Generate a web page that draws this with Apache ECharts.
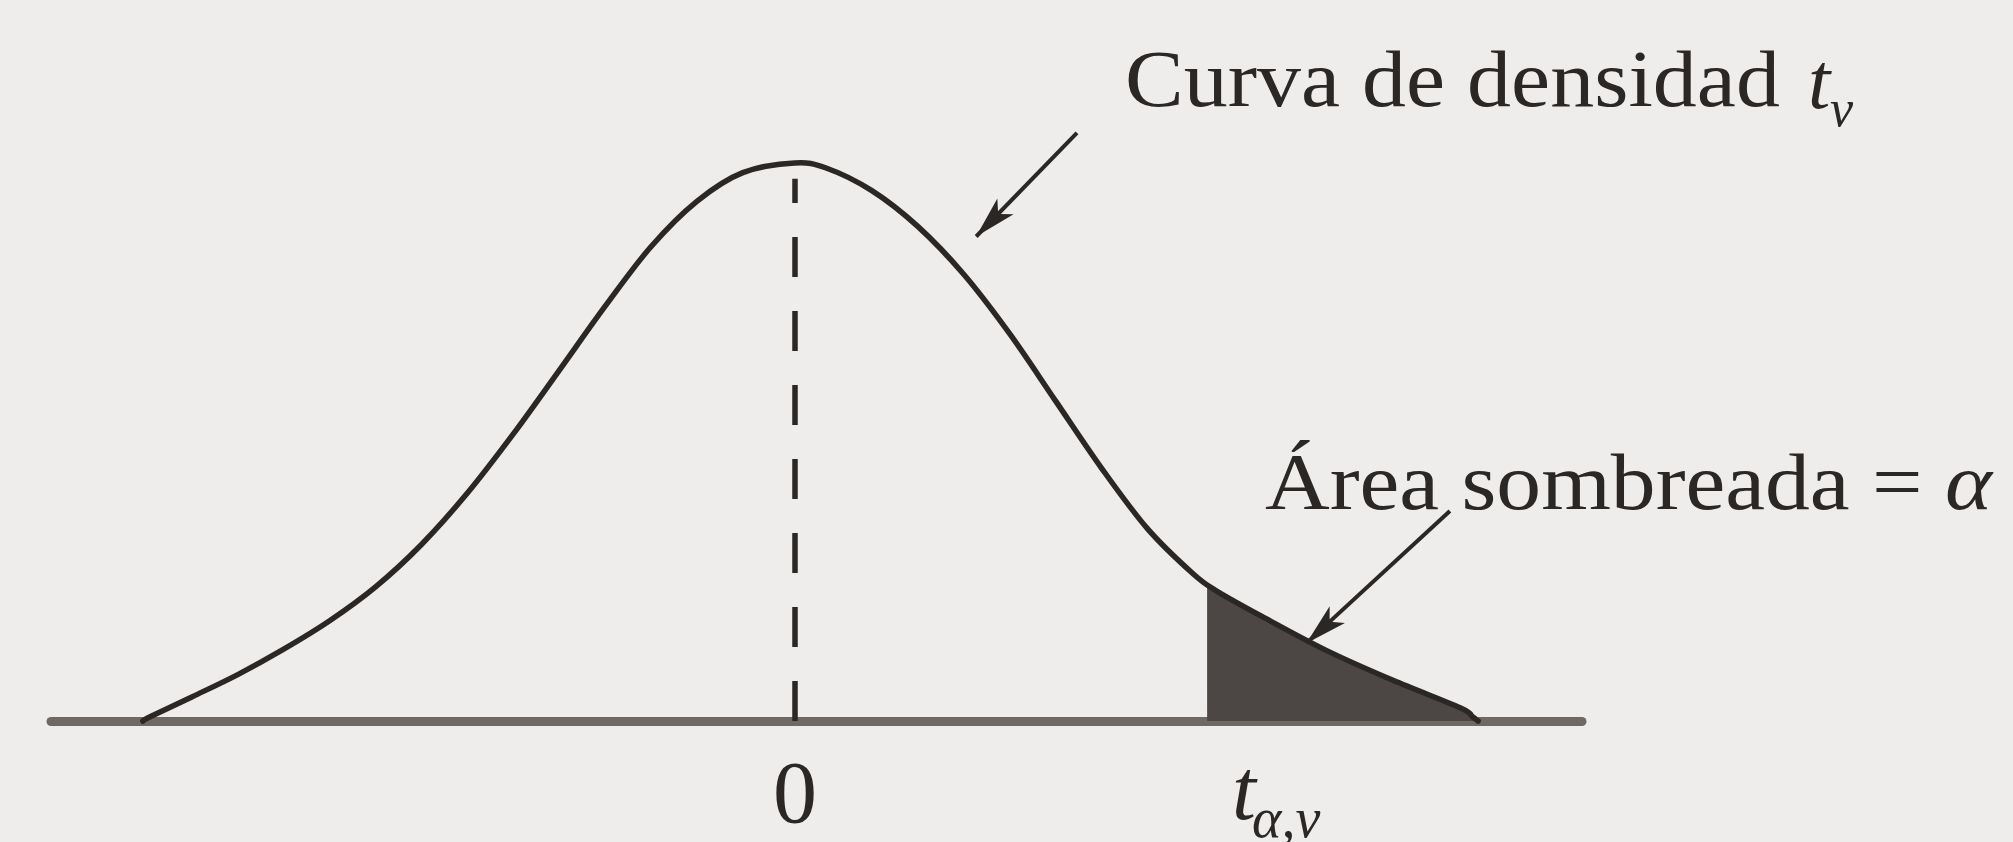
<!DOCTYPE html>
<html>
<head>
<meta charset="utf-8">
<script src="https://cdn.jsdelivr.net/npm/echarts@6/dist/echarts.min.js"></script>
<style>
html,body{margin:0;padding:0;background:#efedeb;}
#c{width:2013px;height:842px;}
</style>
</head>
<body>
<div id="c"></div>
<script>
// Density curve (x in t units, y in density units)
const curveX = [-2.98,-2.947,-2.756,-2.546,-2.336,-2.126,-1.916,-1.706,-1.497,-1.287,-1.077,-0.867,-0.657,-0.447,-0.237,0,0.144,0.353,0.563,0.773,0.983,1.193,1.403,1.613,1.823,1.928,2.137,2.433,2.736,3.043,3.10,3.125];
const curveY = [0,0.0029,0.0167,0.0322,0.0498,0.0695,0.0930,0.1224,0.1579,0.1989,0.2430,0.2875,0.3289,0.3604,0.3803,0.3870,0.3835,0.3678,0.3430,0.3098,0.2686,0.2220,0.1754,0.1334,0.1019,0.0903,0.0725,0.0488,0.0282,0.0092,0.0029,0];
// Shaded tail (area = alpha)
const shadeX = [1.886,1.928,2.137,2.433,2.736,3.043,3.10,3.125];
const shadeY = [0.094,0.0903,0.0725,0.0488,0.0282,0.0092,0.0029,0];
// Dashed line at the mean
const meanLine = [[0,0],[0,0.376]];
// Annotation arrows (start, tip)
const arrowCurve = [[1.291,0.4078],[0.83,0.336]];
const arrowArea = [[2.996,0.1456],[2.34,0.054]];
// Texts
const labelCurve = 'Curva de densidad';
const labelArea = 'Área sombreada = ';
const tickZero = '0';

const ink = '#2b2725';
const chart = echarts.init(document.getElementById('c'), null, {renderer:'canvas'});
const serif = "'Liberation Serif','Times New Roman',serif";

// smooth path (Catmull-Rom through the read points, in pixel space from the axes)
function splinePath(pts){
  let d = 'M' + pts[0][0] + ' ' + pts[0][1];
  for (let i = 0; i < pts.length - 1; i++) {
    const p0 = pts[Math.max(i - 1, 0)], p1 = pts[i], p2 = pts[i + 1], p3 = pts[Math.min(i + 2, pts.length - 1)];
    const c1x = p1[0] + (p2[0] - p0[0]) / 6, c1y = p1[1] + (p2[1] - p0[1]) / 6;
    const c2x = p2[0] - (p3[0] - p1[0]) / 6, c2y = p2[1] - (p3[1] - p1[1]) / 6;
    d += ' C' + c1x + ' ' + c1y + ' ' + c2x + ' ' + c2y + ' ' + p2[0] + ' ' + p2[1];
  }
  return d;
}

chart.setOption({
  backgroundColor:'#efedeb',
  animation:false,
  grid:{left:51,right:431,top:0,bottom:121},
  xAxis:{type:'value',min:-3.4,max:3.6,
    axisLine:{show:true,onZero:false,lineStyle:{color:'#6f6965',width:9}},
    axisTick:{show:false},axisLabel:{show:false},splitLine:{show:false}},
  yAxis:{type:'value',min:0,max:0.5,show:false,splitLine:{show:false}},
  series:[
    {type:'custom',name:'shade',coordinateSystem:'cartesian2d',z:2,
     data:shadeX.map((x,i)=>[x,shadeY[i]]),encode:{x:0,y:1},
     renderItem:function(params, api){
       if (params.dataIndex !== 0) return null;
       const pts = shadeX.map((x,i)=>api.coord([x, shadeY[i]]));
       const base0 = api.coord([shadeX[0], 0]);
       const baseN = api.coord([shadeX[shadeX.length-1], 0]);
       const d = splinePath(pts) + ' L' + baseN[0] + ' ' + baseN[1] + ' L' + base0[0] + ' ' + base0[1] + ' Z';
       return {type:'path',shape:{pathData:d},style:{fill:'#4c4745',stroke:null}};
     }},
    {type:'custom',name:'curve',coordinateSystem:'cartesian2d',z:3,
     data:curveX.map((x,i)=>[x,curveY[i]]),encode:{x:0,y:1},
     renderItem:function(params, api){
       if (params.dataIndex !== 0) return null;
       const pts = curveX.map((x,i)=>api.coord([x, curveY[i]]));
       return {type:'path',shape:{pathData:splinePath(pts)},
         style:{fill:null,stroke:ink,lineWidth:5.5,lineJoin:'round',lineCap:'round'}};
     }},
    {type:'line',name:'marks',data:[],z:4,
     markLine:{silent:true,symbol:['none','none'],label:{show:false},animation:false,
       data:[[{coord:meanLine[0],lineStyle:{color:ink,width:5.5,type:[40,34]}},{coord:meanLine[1]}]]}
    },
    {type:'line',name:'arrows',data:[],z:4,
     markLine:{silent:true,symbol:['none','arrow'],symbolSize:[17,42],label:{show:false},animation:false,
       lineStyle:{color:ink,width:4,type:'solid'},
       data:[
         [{coord:arrowCurve[0]},{coord:arrowCurve[1]}],
         [{coord:arrowArea[0]},{coord:arrowArea[1]}]
       ]}
    }
  ],
  graphic:[
    {type:'text',x:1125,y:45,scaleX:1.1,style:{text:labelCurve,font:'80px '+serif,fill:ink,align:'left',verticalAlign:'top'}},
    {type:'text',x:1808,y:47,style:{text:'t',font:'italic 80px '+serif,fill:ink,align:'left',verticalAlign:'top'}},
    {type:'text',x:1830,y:86,style:{text:'ν',font:'italic 52px '+serif,fill:ink,align:'left',verticalAlign:'top'}},
    {type:'text',x:1265,y:448,scaleX:1.12,style:{text:'{n|'+labelArea+'}{i|α}',verticalAlign:'top',align:'left',
       rich:{n:{fontSize:80,fontFamily:serif,fill:ink},i:{fontSize:80,fontFamily:serif,fontStyle:'italic',fill:ink}}}},
    {type:'text',left:773,top:755,style:{text:tickZero,font:'88px '+serif,fill:ink}},
    {type:'text',left:1232,top:753,style:{text:'t',font:'italic 86px '+serif,fill:ink}},
    {type:'text',left:1252,top:794,style:{text:'α,ν',font:'italic 56px '+serif,fill:ink}}
  ]
});
</script>
</body>
</html>
